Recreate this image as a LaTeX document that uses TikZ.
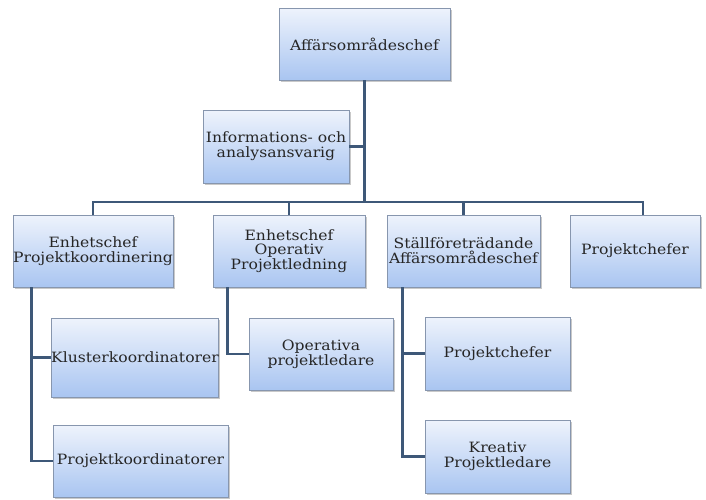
\documentclass[tikz,border=0pt]{standalone}
\usepackage{fontspec}
\setmainfont{DejaVu Serif}[FakeStretch=1.1]
\usetikzlibrary{shadows,calc}
\definecolor{boxtop}{HTML}{EEF3FC}
\definecolor{boxbot}{HTML}{A9C5F1}
\definecolor{boxline}{HTML}{8796AE}
\definecolor{conncol}{HTML}{3E5878}
\tikzset{
  orgbox/.style={draw=boxline, line width=0.8pt, top color=boxtop, bottom color=boxbot,
    align=center, inner sep=0pt, text=black!85,
    font=\fontsize{14.2}{14.8}\selectfont,
    drop shadow={shadow xshift=1.5pt, shadow yshift=-1.5pt, opacity=0.35, fill=black!60}},
  conn/.style={draw=conncol, line width=2.4pt}
}
\newcommand{\obox}[6]{% name, x1, y1, x2, y2, text
  \node[orgbox, minimum width={(#4)-(#2)}, minimum height={(#5)-(#3)}] (#1) at ({((#2)+(#4))/2},{((#3)+(#5))/2}) {#6};}
\begin{document}
\begin{tikzpicture}[x=1pt,y=-1pt]
\useasboundingbox (0,0) rectangle (706,499);
\fill[white] (0,0) rectangle (706,499);
\coordinate (busy) at (0,202);
\obox{top}{279}{8}{450}{80}{Affärsområdeschef}
\obox{info}{203}{110}{349}{183}{Informations- och\\analysansvarig}
\obox{b1}{13}{215}{173}{287}{Enhetschef\\Projektkoordinering}
\obox{b2}{213}{215}{365}{287}{Enhetschef\\Operativ\\Projektledning}
\obox{b3}{387}{215}{540}{287}{Ställföreträdande\\Affärsområdeschef}
\obox{b4}{570}{215}{700}{287}{Projektchefer}
\obox{klus}{52}{318}{218}{397}{Klusterkoordinatorer}
\obox{pk}{53}{425}{228}{497}{Projektkoordinatorer}
\obox{oper}{249}{318}{393}{390}{Operativa\\projektledare}
\obox{pc}{425}{317}{570}{390}{Projektchefer}
\obox{kr}{425}{420}{570}{493}{Kreativ\\Projektledare}
\coordinate (b4d) at ($(b4.north)+(8,0)$);
\coordinate (c1) at ($(b1.south west)+(19,0)$);
\coordinate (c2) at ($(b2.south west)+(15,0)$);
\coordinate (c3) at ($(b3.south west)+(16,0)$);
\draw[conn] (top.south) -- (top.south |- busy);
\draw[conn] (info.east) -- (info.east -| top.south);
\draw[conn] (b1.north) -- (b1.north |- busy) -- (b4d |- busy) -- (b4d);
\draw[conn] (b2.north) -- (b2.north |- busy);
\draw[conn] (b3.north) -- (b3.north |- busy);
\draw[conn] (c1) |- (klus.west);
\draw[conn] (c1) |- (pk.west);
\draw[conn] (c2) |- (oper.west);
\draw[conn] (c3) |- (pc.west);
\draw[conn] (c3) |- (kr.west);
\end{tikzpicture}
\end{document}
